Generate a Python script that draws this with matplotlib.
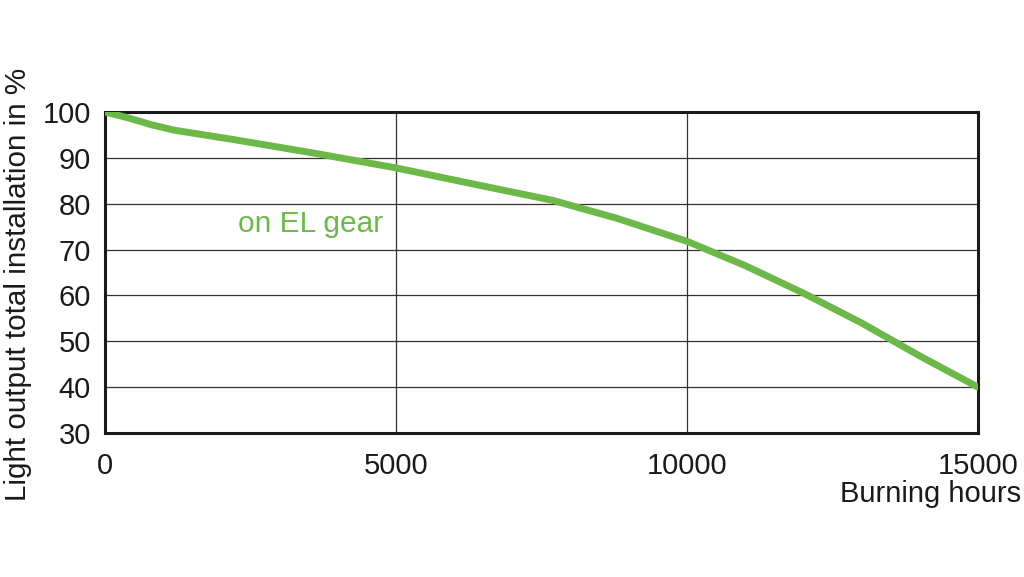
import matplotlib
matplotlib.use("Agg")
import matplotlib.pyplot as plt

# burning hours vs light output
hours = [0, 400, 800, 1200, 1700, 2200, 3600, 5000, 6400, 7700, 8800, 10000, 11000, 12000, 13000, 14000, 15000]
light = [100, 98.7, 97.2, 96.0, 95.0, 94.0, 91.0, 87.8, 84.1, 80.7, 76.8, 71.8, 66.5, 60.5, 54.0, 46.8, 40.0]
xticks = [0, 5000, 10000, 15000]
yticks = [30, 40, 50, 60, 70, 80, 90, 100]
green = "#6cb94a"

plt.rcParams['font.family'] = ['Liberation Sans', 'DejaVu Sans']
fig = plt.figure(figsize=(10.24, 5.77), dpi=100)
ax = fig.add_axes([0.1025, 0.2496, 0.8525, 0.5564])

ax.plot(hours, light, color=green, lw=5, solid_capstyle='round', solid_joinstyle='round', zorder=3)
ax.set_xlim(0, 15000)
ax.set_ylim(30, 100)
ax.set_xticks(xticks)
ax.set_yticks(yticks)
ax.xaxis.grid(True, color="#333333", lw=0.9)
ax.yaxis.grid(True, color="#333333", lw=0.9)
for s in ax.spines.values():
    s.set_linewidth(2.2)
    s.set_color("#1a1a1a")
ax.tick_params(length=0, labelsize=21, colors="#1a1a1a")
ax.tick_params(axis='x', pad=14)
ax.tick_params(axis='y', pad=10)

ax.text(0.152, 0.651, "on EL gear", transform=ax.transAxes, color=green, fontsize=21.5, va='center')
ax.set_ylabel("Light output total installation in %", fontsize=21.3, color="#1a1a1a")
ax.yaxis.set_label_coords(-0.084, 0.464)
fig.text(0.997, 0.143, "Burning hours", ha='right', va='center', fontsize=21, color="#1a1a1a")

plt.savefig("out.png", dpi=100)
